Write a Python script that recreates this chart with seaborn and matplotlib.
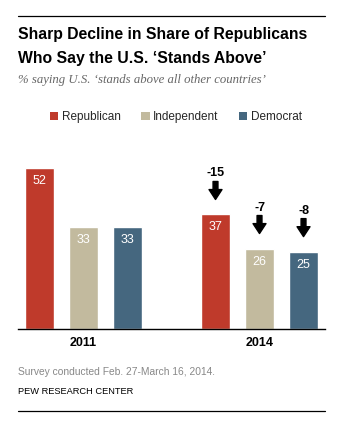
import matplotlib
matplotlib.use("Agg")
import matplotlib.pyplot as plt
import seaborn as sns
import pandas as pd
from matplotlib.patches import Patch
from matplotlib.lines import Line2D

years = ["2011", "2014"]
parties = ["Republican", "Independent", "Democrat"]
values_2011 = [52, 33, 33]
values_2014 = [37, 26, 25]
changes = ["-15", "-7", "-8"]
colors = ["#BF3A2B", "#C2BA9E", "#45677F"]

df = pd.DataFrame({
    "year": [years[0]] * 3 + [years[1]] * 3,
    "party": parties + parties,
    "value": values_2011 + values_2014,
})

sns.set_theme(style="white")
plt.rcParams["font.family"] = ["Liberation Sans", "DejaVu Sans"]

fig = plt.figure(figsize=(3.43, 4.23), dpi=100)
ax = fig.add_axes([18 / 343, 1 - 329 / 423, 307 / 343, 169 / 423])

sns.barplot(data=df, x="year", y="value", hue="party", order=years,
            hue_order=parties, palette=colors, width=0.75, gap=0.33,
            saturation=1, legend=False, ax=ax)

ax.set_xlim(-0.372, 1.372)
ax.set_ylim(0, 169 / 3.095)
ax.set_xlabel("")
ax.set_ylabel("")
ax.set_yticks([])
ax.set_xticks([])
for s in ["top", "right", "left"]:
    ax.spines[s].set_visible(False)
ax.spines["bottom"].set_color("black")
ax.spines["bottom"].set_linewidth(1.0)

# value labels inside bars, arrows above 2014 bars
px = 1 / 3.095
for bar_container_idx, container in enumerate(ax.containers):
    for j, bar in enumerate(container):
        h = bar.get_height()
        cx = bar.get_x() + bar.get_width() / 2
        ax.text(cx, h - 13 * px, f"{int(round(h))}", ha="center", va="center",
                color="white", fontsize=9)
        if j == 1:
            ax.annotate("", xy=(cx, h + 15 * px), xytext=(cx, h + 33 * px),
                        arrowprops=dict(arrowstyle="simple,head_length=0.65,head_width=0.85,tail_width=0.32",
                                        mutation_scale=11, color="black",
                                        shrinkA=0, shrinkB=0),
                        annotation_clip=False)
            ax.text(cx, h + 41 * px, changes[bar_container_idx], ha="center",
                    va="center", fontsize=9, fontweight="bold", color="black",
                    clip_on=False)

# year labels
for i, y in enumerate(years):
    ax.text(i, -14 * px, y, ha="center", va="center", fontsize=9,
            fontweight="bold", color="black", clip_on=False)

# legend
handles = [Patch(facecolor=c, edgecolor="none", label=p) for p, c in zip(parties, colors)]
fig.legend(handles=handles, loc="center", bbox_to_anchor=(176 / 343, 1 - 117 / 423),
           ncol=3, frameon=False, fontsize=8.5, handlelength=0.7, handleheight=0.7,
           handletextpad=0.3, columnspacing=1.75, borderaxespad=0)

# titles
fig.text(18 / 343, 1 - 35 / 423, "Sharp Decline in Share of Republicans",
         fontsize=11.3, fontweight="bold", ha="left", va="center", color="black")
fig.text(18 / 343, 1 - 59 / 423, "Who Say the U.S. \u2018Stands Above\u2019",
         fontsize=11.3, fontweight="bold", ha="left", va="center", color="black")
fig.text(18 / 343, 1 - 80 / 423, "% saying U.S. \u2018stands above all other countries\u2019",
         fontsize=9.2, fontstyle="italic", family=["Liberation Serif", "DejaVu Serif"],
         ha="left", va="center", color="#666666")

# footer
fig.text(18 / 343, 1 - 372 / 423, "Survey conducted Feb. 27-March 16, 2014.",
         fontsize=7.4, ha="left", va="center", color="#888888")
fig.text(18 / 343, 1 - 391 / 423, "PEW RESEARCH CENTER",
         fontsize=6.7, ha="left", va="center", color="black")

# rules
fig.add_artist(Line2D([18 / 343, 325 / 343], [1 - 16 / 423, 1 - 16 / 423],
                      color="black", linewidth=0.9))
fig.add_artist(Line2D([18 / 343, 325 / 343], [1 - 411 / 423, 1 - 411 / 423],
                      color="black", linewidth=0.9))

fig.savefig("out.png", dpi=100)
